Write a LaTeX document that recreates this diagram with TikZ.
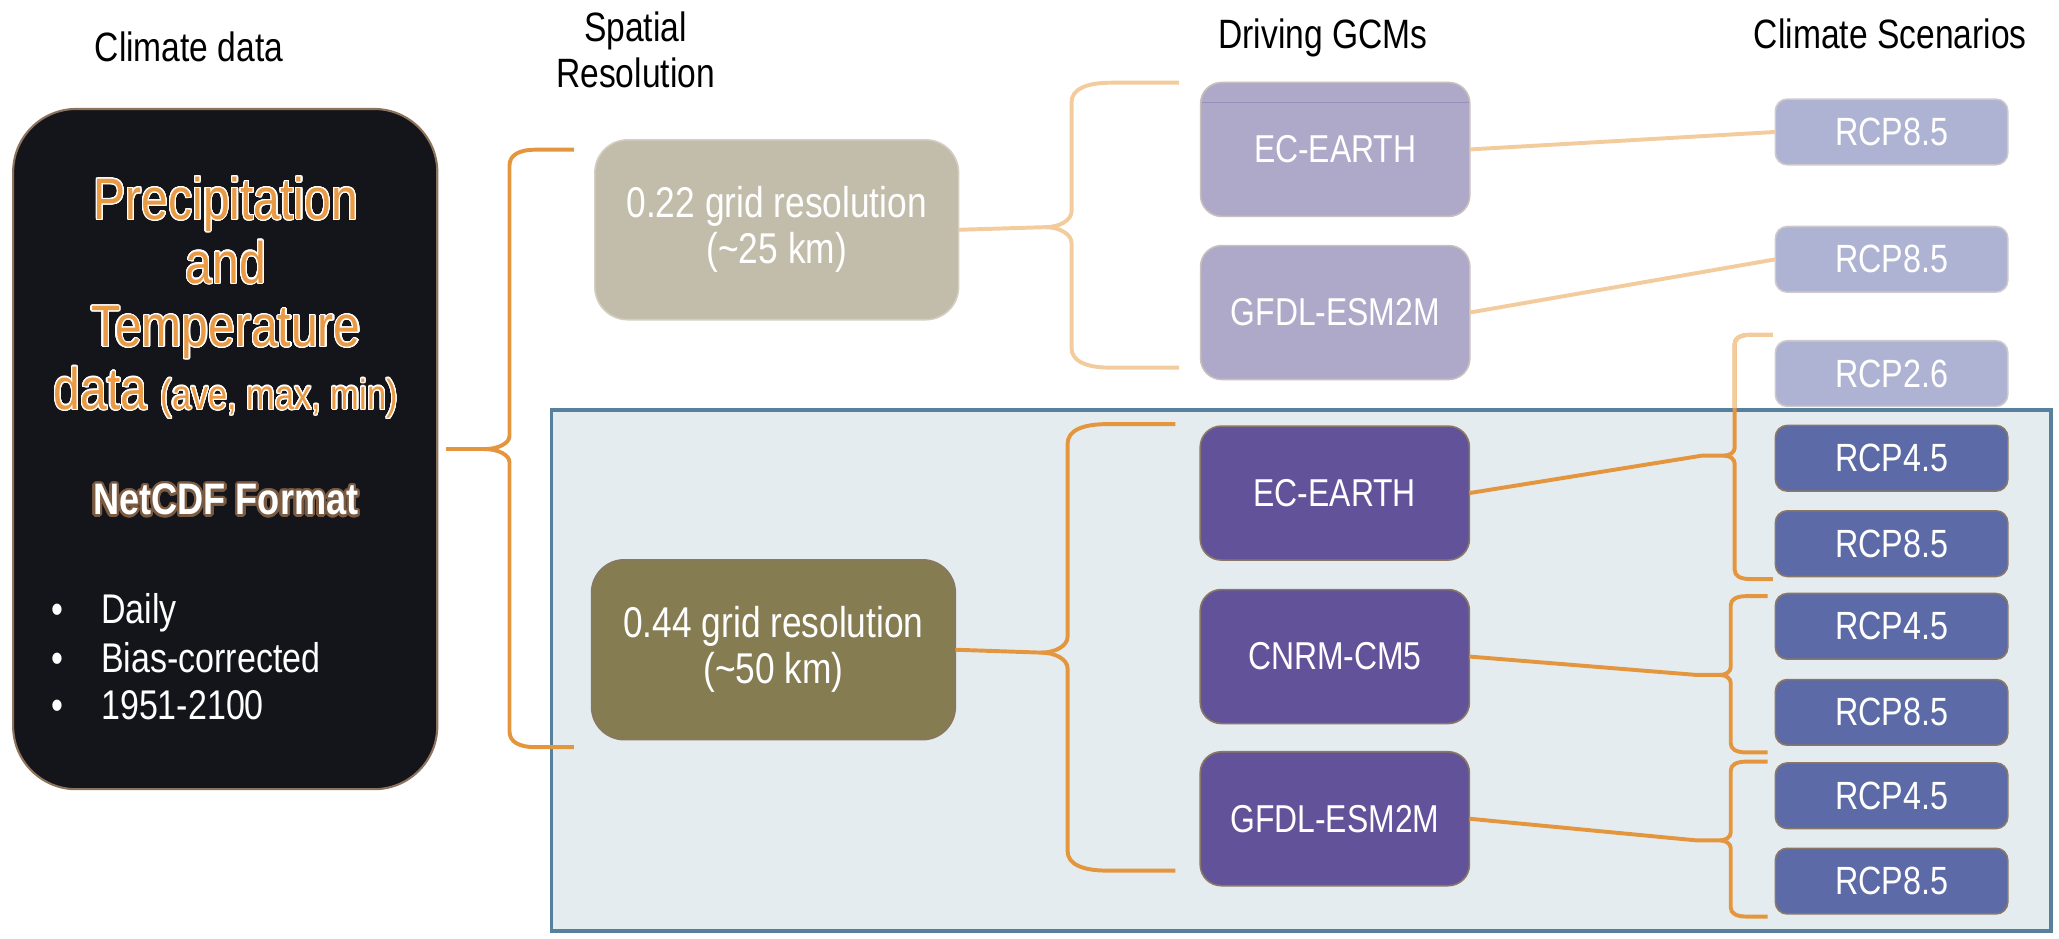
\documentclass[tikz,border=0pt]{standalone}
\usepackage{fontspec}
\setmainfont{Liberation Sans}[FakeStretch=0.82]
\usepackage{contour}
\contourlength{0.45pt}
\contournumber{24}
\usetikzlibrary{calc}
\definecolor{cblack}{HTML}{14151A}
\definecolor{cbrd}{HTML}{8C735E}
\definecolor{corange}{HTML}{E4963F}
\definecolor{ctxto}{HTML}{E89A45}
\definecolor{clight}{HTML}{F2CC9C}
\definecolor{cglow}{HTML}{7A5A40}
\definecolor{cbeige}{HTML}{C2BDAA}
\definecolor{cbeigeb}{HTML}{D3CEC1}
\definecolor{colive}{HTML}{867C52}
\definecolor{coliveb}{HTML}{8A7762}
\definecolor{clp}{HTML}{AEA8C9}
\definecolor{clpb}{HTML}{C9BFBC}
\definecolor{cfaint}{HTML}{9890BA}
\definecolor{cdp}{HTML}{61529A}
\definecolor{cdpb}{HTML}{8A7766}
\definecolor{clr}{HTML}{AEB3D3}
\definecolor{clrb}{HTML}{CFC9CB}
\definecolor{cdr}{HTML}{5C6AA7}
\definecolor{cpanel}{HTML}{E4ECEF}
\definecolor{cpanelb}{HTML}{56809B}
\newcommand\myfs[2]{\fontsize{#1}{#2}\selectfont}
% #1 xv #2 ym #3 ytop #4 ybot #5 xe #6 rh #7 rv #8 mh #9 mv
\newcommand\mybrace[9]{%
 \draw (#5,#3) -- (#1+#6,#3) .. controls (#1+#6*0.35,#3) and (#1,#3+#7*0.35) .. (#1,#3+#7)
   -- (#1,#2-#9) .. controls (#1,#2-#9*0.45) and (#1-#8*0.45,#2) .. (#1-#8,#2);
 \draw (#5,#4) -- (#1+#6,#4) .. controls (#1+#6*0.35,#4) and (#1,#4-#7*0.35) .. (#1,#4-#7)
   -- (#1,#2+#9) .. controls (#1,#2+#9*0.45) and (#1-#8*0.45,#2) .. (#1-#8,#2);
}
\tikzset{
  every node/.style={inner sep=0pt, outer sep=0pt},
  title/.style={font=\myfs{15.6}{18}, text=black},
  rbox/.style={draw, line width=0.6pt, rounded corners=#1, align=center, text=white},
  gcmbox/.style={rbox=8pt, minimum width=102.5pt, minimum height=51pt, font=\myfs{14.8}{17}},
  rcpbox/.style={rbox=4.5pt, minimum width=88.5pt, minimum height=25pt, font=\myfs{15}{17}},
  resbox/.style={rbox=12.5pt, minimum width=138.5pt, minimum height=68.5pt, font=\myfs{16.4}{17.5}},
  bigtxt/.style={anchor=base, text=ctxto, font=\myfs{22.3}{24}},
  bullettxt/.style={anchor=base west, text=white, font=\myfs{15.8}{18}},
  oline/.style={draw=corange, line width=1.5pt},
  lline/.style={draw=clight, line width=1.5pt},
}
\begin{document}
\begin{tikzpicture}[x=0.5pt, y=-0.5pt]
\useasboundingbox (0,0) rectangle (1568,715);
% background panel
\node[draw=cpanelb, line width=1.4pt, fill=cpanel, minimum width=571pt, minimum height=198.5pt] (panel) at (991,510.5) {};

% titles
\node[title, anchor=base] (tclim) at (144,46.5) {Climate data};
\node[title, anchor=base] (tsp1) at (484,31.7) {Spatial};
\node[title, anchor=base] (tsp2) at (484,66.5) {Resolution};
\node[title, anchor=base] (tgcm) at (1007.5,36.8) {Driving GCMs};
\node[title, anchor=base] (tscen) at (1439.5,36.8) {Climate Scenarios};

% climate data box
\node[rbox=24pt, fill=cblack, draw=cbrd, line width=0.8pt, minimum width=161.5pt, minimum height=259pt] (black) at (171.5,342) {};
\node[bigtxt] (prec) at (172,167) {\contour{white}{Precipitation}};
\node[bigtxt] (and) at (172,215.6) {\contour{white}{and}};
\node[bigtxt] (temp) at (172,264) {\contour{white}{Temperature}};
\node[bigtxt] (data) at (172,311.6) {\contour{white}{data {\myfs{16}{18}(ave, max, min)}}};
\node[anchor=base, text=white, font=\bfseries\myfs{16.8}{20}] (netcdf) at (172,392) {\contourlength{0.9pt}\contour{cglow}{NetCDF Format}};
\node[bullettxt] (b1) at (39.5,475) {\textbullet\hspace{14.25pt}Daily};
\node[bullettxt] (b2) at (39.5,512) {\textbullet\hspace{14.25pt}Bias-corrected};
\node[bullettxt] (b3) at (39.5,547.6) {\textbullet\hspace{14.25pt}1951-2100};

% resolution boxes
\node[resbox, fill=cbeige, draw=cbeigeb] (r22) at (591.5,175) {0.22 grid resolution\\(\textasciitilde 25 km)};
\node[resbox, fill=colive, draw=coliveb] (r44) at (589,494.8) {0.44 grid resolution\\(\textasciitilde 50 km)};

% GCM boxes
\node[gcmbox, fill=clp, draw=clpb] (ecu) at (1016.8,113.8) {EC-EARTH};
\node[gcmbox, fill=clp, draw=clpb] (gfu) at (1016.8,238) {GFDL-ESM2M};
\node[gcmbox, fill=cdp, draw=cdpb] (ecl) at (1016.5,375.5) {EC-EARTH};
\node[gcmbox, fill=cdp, draw=cdpb] (cnrm) at (1016.5,500) {CNRM-CM5};
\node[gcmbox, fill=cdp, draw=cdpb] (gfl) at (1016.5,623.5) {GFDL-ESM2M};
\draw[draw=cfaint, line width=0.5pt] ($(ecu.north west)+(1,15.5)$) -- ($(ecu.north east)+(-1,15.5)$);

% RCP boxes
\node[rcpbox, fill=clr, draw=clrb] (rA) at (1440.5,100.5) {RCP8.5};
\node[rcpbox, fill=clr, draw=clrb] (rB) at (1440.5,197.5) {RCP8.5};
\node[rcpbox, fill=clr, draw=clrb] (rC) at (1440.5,284.5) {RCP2.6};
\node[rcpbox, fill=cdr, draw=cdpb] (rD) at (1440.5,349) {RCP4.5};
\node[rcpbox, fill=cdr, draw=cdpb] (rE) at (1440.5,414) {RCP8.5};
\node[rcpbox, fill=cdr, draw=cdpb] (rF) at (1440.5,477) {RCP4.5};
\node[rcpbox, fill=cdr, draw=cdpb] (rG) at (1440.5,542.5) {RCP8.5};
\node[rcpbox, fill=cdr, draw=cdpb] (rH) at (1440.5,606) {RCP4.5};
\node[rcpbox, fill=cdr, draw=cdpb] (rI) at (1440.5,671) {RCP8.5};

% brace tips
\coordinate (tA) at (369,342);
\coordinate (tB) at (796,173);
\coordinate (tC) at (793,497);
\coordinate (kD) at (1296,347);
\coordinate (tD) at (1313,347);
\coordinate (kE) at (1292,514);
\coordinate (tE) at (1310,514);
\coordinate (kF) at (1292,640);
\coordinate (tF) at (1310,640);

% connectors
\draw[oline] ([xshift=3.5pt]black.east) -- (tA);
\begin{scope}[oline]
  \mybrace{388}{342}{114}{569}{437}{20}{12}{19}{10}
\end{scope}
\draw[lline] (r22.east) -- (tB);
\begin{scope}[lline]
  \mybrace{816}{173}{63}{280}{898}{30}{15}{20}{12}
\end{scope}
\draw[oline] (r44.east) -- (tC);
\begin{scope}[oline]
  \mybrace{813}{497}{323}{663}{895}{30}{15}{20}{12}
\end{scope}
\draw[lline] (ecu.east) -- (rA.west);
\draw[lline] (gfu.east) -- (rB.west);
\draw[oline] (ecl.east) -- (kD) -- (tD);
\begin{scope}[oline]
  \mybrace{1321}{347}{255}{441}{1350}{12}{7}{8}{6}
\end{scope}
\begin{scope}
  \clip (1290,240) rectangle (1365,310.5);
  \begin{scope}[lline]
    \mybrace{1321}{347}{255}{441}{1350}{12}{7}{8}{6}
  \end{scope}
\end{scope}
\draw[oline] (cnrm.east) -- (kE) -- (tE);
\begin{scope}[oline]
  \mybrace{1318}{514}{454}{573}{1346}{12}{7}{8}{6}
\end{scope}
\draw[oline] (gfl.east) -- (kF) -- (tF);
\begin{scope}[oline]
  \mybrace{1318}{640}{580}{698}{1346}{12}{7}{8}{6}
\end{scope}
\end{tikzpicture}
\end{document}
